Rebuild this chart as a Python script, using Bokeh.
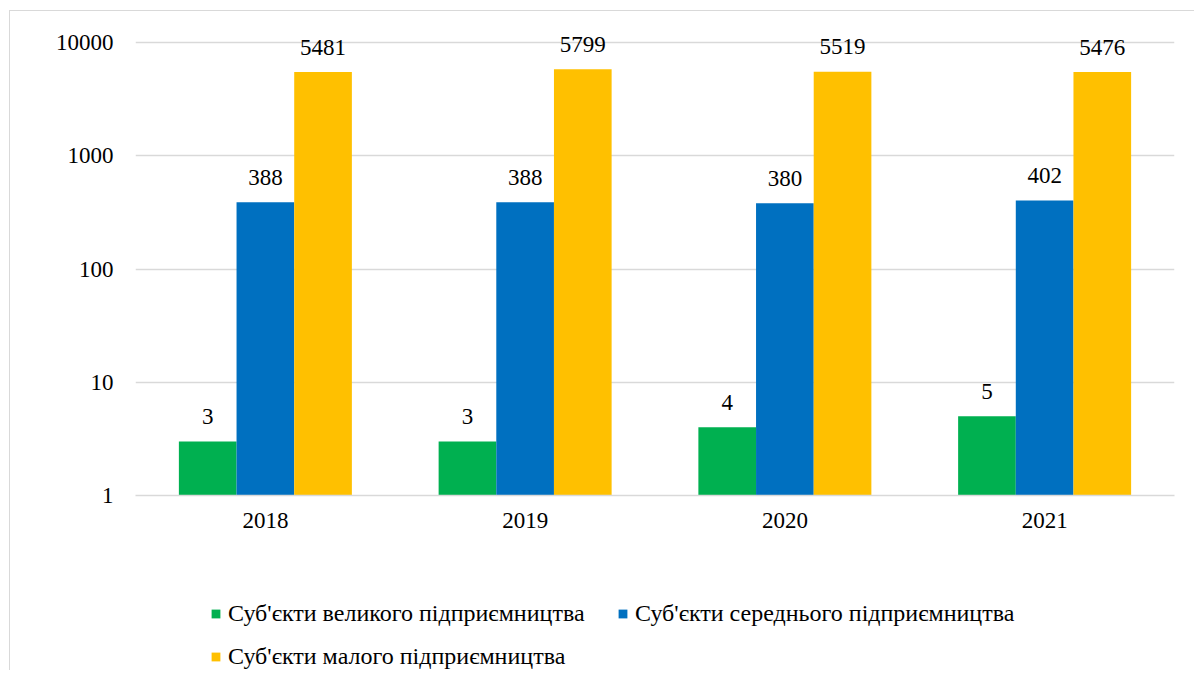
from bokeh.plotting import figure
from bokeh.models import FactorRange, Range1d, FixedTicker, PrintfTickFormatter, Legend, LegendItem, ColumnDataSource
from bokeh.layouts import column
from bokeh.transform import dodge
from bokeh.core.properties import value
from bokeh.embed import file_html
from bokeh.resources import INLINE

years = ["2018", "2019", "2020", "2021"]
large = [3, 3, 4, 5]
medium = [388, 388, 380, 402]
small = [5481, 5799, 5519, 5476]
series_names = ["Суб'єкти великого підприємництва",
                "Суб'єкти середнього підприємництва",
                "Суб'єкти малого підприємництва"]
colors = ["#00B050", "#0070C0", "#FFC000"]
y_ticks = [1, 10, 100, 1000, 10000]

FONT = "Liberation Serif"

src = ColumnDataSource(dict(
    years=years, large=large, medium=medium, small=small,
    large_t=[str(v) for v in large], medium_t=[str(v) for v in medium], small_t=[str(v) for v in small],
))

W = 1184
# frame: top at page y=15, 10000-gridline at y=42, 1 at y=495 -> 453px for 4 decades
frame_h = 480
y_end = 10 ** (4 * frame_h / 453)
p = figure(width=W, height=539, x_range=FactorRange(*years, range_padding=0),
           y_range=Range1d(1, y_end), y_axis_type="log",
           output_backend="svg", toolbar_location=None,
           min_border_left=125, min_border_right=W + 10 - 1174, min_border_top=4, min_border_bottom=55)
p.outline_line_color = None

bw = 0.222
for key, off, col in zip(["large", "medium", "small"], [-bw, 0, bw], colors):
    p.vbar(x=dodge("years", off, range=p.x_range), top=key, bottom=1, width=bw,
           fill_color=col, line_color=None, source=src)
    p.text(x=dodge("years", off, range=p.x_range), y=key, text=key + "_t", source=src,
           text_align="center", text_baseline="alphabetic", y_offset=-25,
           text_font=value(FONT), text_font_size="23px", text_color="#000000")

p.yaxis.ticker = FixedTicker(ticks=y_ticks)
p.yaxis.formatter = PrintfTickFormatter(format="%d")
for ax in (p.xaxis, p.yaxis):
    ax.major_label_text_font = FONT
    ax.major_label_text_font_size = "23px"
    ax.major_label_text_color = "#000000"
    ax.major_tick_line_color = None
    ax.minor_tick_line_color = None
    ax.major_tick_out = 0
    ax.major_tick_in = 0
p.yaxis.axis_line_color = None
p.yaxis.major_label_standoff = 22
p.xaxis.axis_line_color = "#D9D9D9"
p.xaxis.axis_line_width = 1.5
p.xaxis.major_label_standoff = 17
p.xgrid.grid_line_color = None
p.ygrid.grid_line_color = "#D9D9D9"
p.ygrid.grid_line_width = 1.5
p.ygrid.ticker = FixedTicker(ticks=y_ticks)

# legend panel (its renderers reuse the same data, hidden; only their legend swatches show)
p2 = figure(width=W, height=120, x_range=FactorRange(*years, range_padding=0), y_range=Range1d(-1, 0),
            output_backend="svg", toolbar_location=None,
            x_axis_location=None, y_axis_location=None,
            min_border_left=125, min_border_right=W + 10 - 1174, min_border_top=0, min_border_bottom=0)
p2.outline_line_color = None
p2.xgrid.grid_line_color = None
p2.ygrid.grid_line_color = None
items = []
for key, off, col, name in zip(["large", "medium", "small"], [-bw, 0, bw], colors, series_names):
    r = p2.vbar(x=dodge("years", off, range=p2.x_range), top=key, bottom=1, width=bw,
                fill_color=col, line_color=None, source=src)
    r.visible = False
    items.append(LegendItem(label=name, renderers=[r]))
legend = Legend(items=items, location=(75, 0), orientation="horizontal", ncols=2,
                glyph_width=11, glyph_height=11, label_height=24, label_width=373, label_standoff=7,
                spacing=16, padding=0, margin=0, border_line_alpha=0, background_fill_alpha=0,
                label_text_font=FONT, label_text_font_size="24px", label_text_color="#000000")
p2.add_layout(legend, "center")

layout = column(p, p2, spacing=0)
layout.margin = (10, 0, 0, 9)
layout.styles = {"border-left": "1px solid #D9D9D9", "border-top": "1px solid #D9D9D9"}

open("out.html", "w").write(file_html(layout, INLINE))
